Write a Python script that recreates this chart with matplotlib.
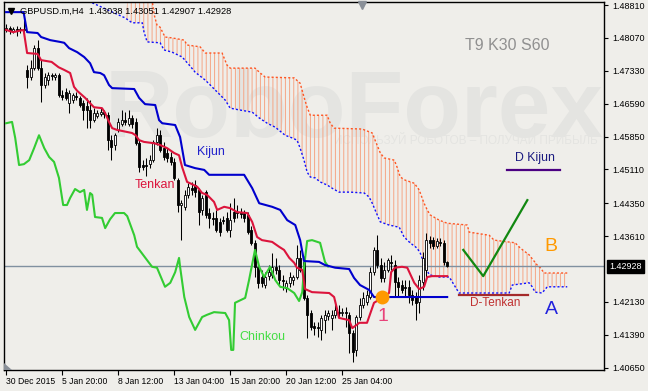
import matplotlib
matplotlib.use("Agg")
import matplotlib.pyplot as plt
import matplotlib.transforms as mtransforms
from matplotlib.patches import Polygon
import numpy as np

plt.rcParams["font.family"] = ["Liberation Sans", "DejaVu Sans"]
plt.rcParams["hatch.linewidth"] = 0.7

# H4 candles, bar index 0 = 30 Dec 2015
opens = [1.4825, 1.4829, 1.4822, 1.4827, 1.4825, 1.4827, 1.4735, 1.4719, 1.4739, 1.4784,
         1.4739, 1.4701, 1.4712, 1.4723, 1.4719, 1.4723, 1.4678, 1.4685, 1.4660, 1.4667,
         1.4676, 1.4672, 1.4660, 1.4654, 1.4645, 1.4622, 1.4631, 1.4636, 1.4640, 1.4633,
         1.4577, 1.4566, 1.4600, 1.4613, 1.4622, 1.4613, 1.4627, 1.4618, 1.4570, 1.4521,
         1.4521, 1.4523, 1.4532, 1.4573, 1.4588, 1.4559, 1.4548, 1.4539, 1.4528, 1.4487,
         1.4431, 1.4427, 1.4454, 1.4469, 1.4476, 1.4465, 1.4420, 1.4460, 1.4413, 1.4402,
         1.4402, 1.4393, 1.4397, 1.4402, 1.4375, 1.4415, 1.4415, 1.4415, 1.4413, 1.4409,
         1.4375, 1.4346, 1.4292, 1.4269, 1.4251, 1.4271, 1.4274, 1.4292, 1.4285, 1.4262,
         1.4244, 1.4256, 1.4262, 1.4269, 1.4312, 1.4303, 1.4222, 1.4188, 1.4159, 1.4157,
         1.4150, 1.4172, 1.4181, 1.4177, 1.4184, 1.4190, 1.4188, 1.4190, 1.4184, 1.4143,
         1.4105, 1.4179, 1.4206, 1.4213, 1.4224, 1.4280, 1.4330, 1.4296, 1.4267, 1.4285,
         1.4303, 1.4296, 1.4258, 1.4251, 1.4247, 1.4247, 1.4228, 1.4224, 1.4213, 1.4258,
         1.4285, 1.4352, 1.4352, 1.4339, 1.4348, 1.4346, 1.43038]
highs = [1.4838, 1.4834, 1.4831, 1.4834, 1.4831, 1.4847, 1.4746, 1.4757, 1.4791, 1.4802,
         1.4757, 1.4728, 1.4730, 1.4728, 1.4728, 1.4728, 1.4690, 1.4694, 1.4690, 1.4683,
         1.4685, 1.4676, 1.4667, 1.4672, 1.4667, 1.4649, 1.4645, 1.4649, 1.4645, 1.4640,
         1.4588, 1.4593, 1.4627, 1.4645, 1.4640, 1.4645, 1.4633, 1.4627, 1.4577, 1.4532,
         1.4537, 1.4543, 1.4577, 1.4604, 1.4600, 1.4573, 1.4559, 1.4550, 1.4537, 1.4492,
         1.4442, 1.4465, 1.4480, 1.4483, 1.4487, 1.4469, 1.4454, 1.4465, 1.4424, 1.4415,
         1.4420, 1.4402, 1.4406, 1.4415, 1.4435, 1.4447, 1.4431, 1.4424, 1.4420, 1.4415,
         1.4384, 1.4352, 1.4303, 1.4285, 1.4280, 1.4296, 1.4323, 1.4312, 1.4296, 1.4274,
         1.4262, 1.4280, 1.4274, 1.4341, 1.4330, 1.4316, 1.4228, 1.4195, 1.4168, 1.4168,
         1.4184, 1.4195, 1.4195, 1.4195, 1.4217, 1.4206, 1.4199, 1.4202, 1.4190, 1.4150,
         1.4184, 1.4222, 1.4235, 1.4240, 1.4292, 1.4337, 1.4363, 1.4312, 1.4303, 1.4312,
         1.4319, 1.4307, 1.4269, 1.4262, 1.4262, 1.4262, 1.4240, 1.4235, 1.4274, 1.4325,
         1.4368, 1.4361, 1.4359, 1.4357, 1.4357, 1.4352, 1.43051]
lows = [1.4820, 1.4816, 1.4818, 1.4811, 1.4818, 1.4818, 1.4694, 1.4712, 1.4735, 1.4735,
        1.4663, 1.4694, 1.4701, 1.4712, 1.4712, 1.4674, 1.4667, 1.4667, 1.4638, 1.4660,
        1.4667, 1.4651, 1.4622, 1.4604, 1.4604, 1.4618, 1.4627, 1.4631, 1.4627, 1.4555,
        1.4532, 1.4555, 1.4595, 1.4609, 1.4611, 1.4609, 1.4604, 1.4566, 1.4505, 1.4510,
        1.4496, 1.4514, 1.4528, 1.4566, 1.4550, 1.4532, 1.4528, 1.4521, 1.4487, 1.4415,
        1.4352, 1.4420, 1.4447, 1.4454, 1.4449, 1.4386, 1.4409, 1.4402, 1.4379, 1.4386,
        1.4370, 1.4361, 1.4388, 1.4370, 1.4359, 1.4393, 1.4402, 1.4402, 1.4393, 1.4366,
        1.4341, 1.4269, 1.4244, 1.4247, 1.4244, 1.4262, 1.4267, 1.4276, 1.4251, 1.4240,
        1.4235, 1.4247, 1.4251, 1.4265, 1.4280, 1.4217, 1.4132, 1.4150, 1.4139, 1.4134,
        1.4128, 1.4143, 1.4172, 1.4150, 1.4177, 1.4177, 1.4181, 1.4157, 1.4098, 1.4077,
        1.4092, 1.4172, 1.4199, 1.4206, 1.4220, 1.4274, 1.4290, 1.4258, 1.4258, 1.4280,
        1.4285, 1.4224, 1.4224, 1.4233, 1.4224, 1.4211, 1.4206, 1.4172, 1.4188, 1.4240,
        1.4262, 1.4334, 1.4332, 1.4334, 1.4339, 1.4296, 1.42907]
closes = [1.4829, 1.4822, 1.4827, 1.4825, 1.4827, 1.4825, 1.4719, 1.4739, 1.4784, 1.4739,
          1.4701, 1.4719, 1.4723, 1.4721, 1.4723, 1.4678, 1.4674, 1.4672, 1.4683, 1.4678,
          1.4674, 1.4656, 1.4645, 1.4645, 1.4622, 1.4638, 1.4638, 1.4640, 1.4636, 1.4577,
          1.4561, 1.4588, 1.4618, 1.4622, 1.4618, 1.4627, 1.4613, 1.4570, 1.4516, 1.4516,
          1.4519, 1.4532, 1.4573, 1.4588, 1.4555, 1.4539, 1.4537, 1.4528, 1.4492, 1.4431,
          1.4435, 1.4454, 1.4472, 1.4465, 1.4460, 1.4415, 1.4447, 1.4409, 1.4402, 1.4399,
          1.4375, 1.4370, 1.4395, 1.4375, 1.4397, 1.4402, 1.4413, 1.4411, 1.4402, 1.4370,
          1.4346, 1.4292, 1.4256, 1.4256, 1.4269, 1.4280, 1.4292, 1.4285, 1.4262, 1.4260,
          1.4256, 1.4269, 1.4269, 1.4312, 1.4285, 1.4222, 1.4184, 1.4157, 1.4154, 1.4154,
          1.4177, 1.4184, 1.4188, 1.4184, 1.4195, 1.4188, 1.4190, 1.4188, 1.4143, 1.4100,
          1.4179, 1.4206, 1.4222, 1.4228, 1.4280, 1.4330, 1.4296, 1.4267, 1.4285, 1.4307,
          1.4301, 1.4258, 1.4247, 1.4240, 1.4244, 1.4228, 1.4217, 1.4211, 1.4262, 1.4312,
          1.4352, 1.4346, 1.4339, 1.4350, 1.4346, 1.4303, 1.42928]

# Ichimoku lines (bar index, price)
tenkan_i = [0, 2, 5, 6, 9, 10, 13, 15, 16.6, 18.3, 19.4, 20.3, 22.6, 24, 25.1, 27.4, 28.3,
            29.4, 30.3, 31.7, 36, 37, 38, 39.4, 42.3, 44, 46, 48, 49.4, 50.3, 51.7, 53.1,
            54.6, 56, 57.4, 59.4, 60.3, 62.3, 64, 66, 68.9, 70.3, 71.7, 73.1, 76, 78, 79.4,
            80.9, 82.3, 83.1, 84.6, 85.4, 87.4, 92.3, 93.7, 94.6, 95.1, 98, 98.9, 100.9,
            103.1, 105.1, 107.4, 109.4, 110, 111.1, 113.1, 114.6, 116.6, 118, 119.4, 120.3,
            121.7, 126]
tenkan_p = [1.4825, 1.4820, 1.4825, 1.4773, 1.4771, 1.4757, 1.4753, 1.4741, 1.4735, 1.4728,
            1.4697, 1.4688, 1.4672, 1.4660, 1.4651, 1.4649, 1.4638, 1.4618, 1.4604, 1.4600,
            1.4593, 1.4588, 1.4577, 1.4573, 1.4570, 1.4566, 1.4559, 1.4548, 1.4543, 1.4516,
            1.4483, 1.4478, 1.4472, 1.4458, 1.4454, 1.4438, 1.4420, 1.4427, 1.4424, 1.4415,
            1.4413, 1.4393, 1.4359, 1.4352, 1.4348, 1.4337, 1.4330, 1.4312, 1.4301, 1.4290,
            1.4285, 1.4242, 1.4235, 1.4233, 1.4224, 1.4195, 1.4177, 1.4172, 1.4154, 1.4166,
            1.4166, 1.4211, 1.4222, 1.4233, 1.4280, 1.4290, 1.4292, 1.4290, 1.4256, 1.4242,
            1.4247, 1.4269, 1.4271, 1.4271]

kijun_i = [0, 5, 6, 9, 10, 12.6, 15.4, 16.6, 18, 20.3, 22.3, 24, 25.1, 26.9, 28, 29.4, 30.3,
           36.6, 38, 39.7, 42.6, 43.7, 44.6, 48.3, 49.7, 51.1, 54, 56.6, 58, 68, 70.3, 72.3,
           76, 78.3, 80.3, 82.6, 84, 85.1, 89.4, 91.1, 94, 98, 99.4, 101.1, 103.7, 105.1, 126]
kijun_p = [1.4865, 1.4865, 1.4820, 1.4818, 1.4809, 1.4802, 1.4798, 1.4796, 1.4784, 1.4775,
           1.4764, 1.4750, 1.4730, 1.4728, 1.4723, 1.4701, 1.4694, 1.4692, 1.4672, 1.4658,
           1.4656, 1.4622, 1.4615, 1.4611, 1.4584, 1.4521, 1.4514, 1.4510, 1.4499, 1.4499,
           1.4469, 1.4435, 1.4427, 1.4420, 1.4397, 1.4386, 1.4352, 1.4305, 1.4303, 1.4296,
           1.4290, 1.4287, 1.4267, 1.4251, 1.4240, 1.4224, 1.4224]

chinkou_i = [0, 1.7, 2.6, 3.7, 5.1, 6.6, 8, 9.4, 10.9, 12.3, 13.7, 15.1, 16.3, 17.4, 18.3,
             19.7, 21.1, 22.3, 23.1, 24, 24.6, 25.4, 27.4, 28.3, 29.7, 31.1, 33.7, 34.6, 36.6,
             37.4, 41.7, 43.1, 45.4, 46.9, 48.3, 49.4, 49.7, 50.9, 52.3, 54, 56, 57.4, 59.4,
             62.6, 63.7, 64.3, 64.9, 65.4, 68.3, 69.4, 70.3, 71.1, 72.3, 73.7, 75.4, 76.9,
             78.3, 80.3, 82.3, 83.7, 84.6, 85.1, 86, 87.4, 89.7, 91.1, 92]
chinkou_p = [1.4615, 1.4618, 1.4582, 1.4521, 1.4523, 1.4532, 1.4559, 1.4588, 1.4559, 1.4539,
             1.4528, 1.4492, 1.4431, 1.4431, 1.4447, 1.4467, 1.4460, 1.4465, 1.4420, 1.4458,
             1.4454, 1.4404, 1.4402, 1.4379, 1.4399, 1.4413, 1.4413, 1.4406, 1.4363, 1.4337,
             1.4292, 1.4290, 1.4247, 1.4256, 1.4280, 1.4312, 1.4292, 1.4224, 1.4179, 1.4150,
             1.4179, 1.4184, 1.4190, 1.4188, 1.4172, 1.4105, 1.4105, 1.4211, 1.4222, 1.4262,
             1.4298, 1.4330, 1.4292, 1.4269, 1.4292, 1.4262, 1.4247, 1.4244, 1.4233, 1.4215,
             1.4235, 1.4290, 1.4350, 1.4352, 1.4346, 1.4303, 1.42928]

span_a_i = [24.6, 34, 36, 38.9, 39.4, 40.3, 44, 45.1, 47.4, 50.3, 52.3, 54, 56.9, 59.7, 62.6,
            64, 66.6, 70.3, 72.3, 74.6, 76.9, 79.7, 81.7, 83.1, 84, 85.1, 86, 86.9, 88.3, 89.7,
            91.7, 93.1, 95.1, 98.3, 102.3, 103.7, 104.6, 106, 106.9, 109.4, 112.3, 113.7,
            115.4, 117.4, 118.3, 119.7, 120.9, 123.7, 126.6, 128.3, 129.4, 143.7, 144.6,
            149.4, 150.3, 151.1, 153.1, 154.6, 160.3]
span_a_p = [1.4886, 1.4852, 1.4841, 1.4841, 1.4820, 1.4798, 1.4796, 1.4780, 1.4775, 1.4764,
            1.4746, 1.4730, 1.4712, 1.4690, 1.4667, 1.4649, 1.4645, 1.4640, 1.4627, 1.4615,
            1.4606, 1.4588, 1.4582, 1.4577, 1.4559, 1.4532, 1.4505, 1.4494, 1.4492, 1.4483,
            1.4476, 1.4469, 1.4460, 1.4460, 1.4458, 1.4449, 1.4435, 1.4409, 1.4393, 1.4386,
            1.4381, 1.4359, 1.4346, 1.4334, 1.4323, 1.4292, 1.4274, 1.4269, 1.4269, 1.4247,
            1.4233, 1.4233, 1.4251, 1.4256, 1.4247, 1.4235, 1.4233, 1.4247, 1.4247]

span_b_i = [35, 41.4, 42.3, 43.1, 44, 45.4, 47.4, 50.9, 51.7, 55.4, 56.9, 61.7, 63.1, 64,
            71.1, 72.6, 74, 82.3, 84, 85.1, 86, 86.9, 91.7, 92.6, 93.7, 101.7, 104.6, 105.4,
            106.9, 108, 110.9, 111.7, 112.6, 114, 116.6, 118, 119.4, 120.3, 121.1, 123.7, 126,
            131.7, 132.3, 138, 139.4, 145.4, 146.9, 149.4, 151.7, 152.6, 153.7, 160.3]
span_b_p = [1.4910, 1.4910, 1.4859, 1.4836, 1.4831, 1.4809, 1.4807, 1.4802, 1.4791, 1.4787,
            1.4773, 1.4773, 1.4746, 1.4739, 1.4739, 1.4728, 1.4719, 1.4717, 1.4705, 1.4674,
            1.4651, 1.4633, 1.4633, 1.4615, 1.4604, 1.4602, 1.4593, 1.4577, 1.4548, 1.4537,
            1.4532, 1.4516, 1.4494, 1.4487, 1.4480, 1.4465, 1.4435, 1.4420, 1.4409, 1.4397,
            1.4390, 1.4386, 1.4370, 1.4363, 1.4352, 1.4346, 1.4334, 1.4319, 1.4296, 1.4290,
            1.4278, 1.4278]

# analyst drawings
check_i = [130.6, 136.3, 148.9]
check_p = [1.4330, 1.4271, 1.4442]
d_kijun_i = [143.1, 158.2]
d_kijun_p = [1.4509, 1.4509]
d_tenkan_i = [129.3, 149.1]
d_tenkan_p = [1.4228, 1.4228]
point1_i, point1_p = 107.4, 1.4223

last_price = 1.42928
# 1.42870 is hidden behind the last-price box, as in the terminal
price_ticks = [1.48810, 1.48070, 1.47330, 1.46590, 1.45850, 1.45110,
               1.44350, 1.43610, 1.42130, 1.41390, 1.40650]
time_ticks = [0, 16, 32, 48, 64, 80, 96]
time_labels = ["30 Dec 2015", "5 Jan 20:00", "8 Jan 12:00", "13 Jan 04:00",
               "15 Jan 20:00", "20 Jan 12:00", "25 Jan 04:00"]

bg = "#efeeea"
fig = plt.figure(figsize=(6.48, 3.91), dpi=100, facecolor=bg)
ax = fig.add_axes([4 / 648, 21 / 391, 600 / 648, 368 / 391], facecolor=bg)
ax.set_xlim(-0.6, 170.8)
ax.set_ylim(1.40598, 1.48878)

# watermark
ax.text(0.168, 0.633, "RoboForex", transform=ax.transAxes, fontsize=68, fontweight="bold",
        color="#e4e4e1", va="baseline", ha="left", zorder=0)
ax.text(0.99, 0.622, "ИСПОЛЬЗУЙ РОБОТОВ – ПОЛУЧАЙ ПРИБЫЛЬ", transform=ax.transAxes,
        fontsize=8.5, color="#e4e4e1", va="center", ha="right", zorder=0)

# cloud
n0 = 1
cloud = list(zip(span_a_i[n0:], span_a_p[n0:])) + list(zip(span_b_i[::-1], span_b_p[::-1]))
ax.add_patch(Polygon(cloud, closed=True, facecolor="none", edgecolor="#f5a585",
                     hatch="||||", lw=0, zorder=1))
ax.plot(span_a_i, span_a_p, color="#1010ff", lw=1, ls=(0, (1.5, 1.5)), zorder=2)
ax.plot(span_b_i, span_b_p, color="#ff5522", lw=1, ls=(0, (1.5, 1.5)), zorder=2)

# current price line
ax.axhline(last_price, color="#8090a0", lw=1, zorder=2)

# candles
idx = np.arange(len(closes))
o = np.array(opens)
h = np.array(highs)
lo = np.array(lows)
c = np.array(closes)
up = c >= o
ax.vlines(idx, lo, h, color="black", lw=0.75, zorder=3)
ax.bar(idx[up], (c - o)[up], bottom=o[up], width=0.62, color="white",
       edgecolor="black", lw=0.6, zorder=4)
ax.bar(idx[~up], (o - c)[~up], bottom=c[~up], width=0.62, color="black",
       edgecolor="black", lw=0.6, zorder=4)

# ichimoku lines
ax.plot(chinkou_i, chinkou_p, color="#33cc33", lw=1.5, zorder=5)
ax.plot(kijun_i, kijun_p, color="#0000cd", lw=1.5, zorder=5)
ax.plot(tenkan_i, tenkan_p, color="#dc143c", lw=1.5, zorder=5)

# drawings
ax.plot(check_i, check_p, color="#118811", lw=1.6, zorder=6)
ax.plot(d_kijun_i, d_kijun_p, color="#4b0082", lw=1.6, zorder=6)
ax.plot(d_tenkan_i, d_tenkan_p, color="#a52a2a", lw=1.6, zorder=6)
ax.plot([point1_i], [point1_p], "o", color="#ff9900", ms=10, mew=0, zorder=6)

ax.text(58.6, 1.4551, "Kijun", color="#2222cc", fontsize=9, ha="center", va="center", zorder=6)
ax.text(42.6, 1.4476, "Tenkan", color="#dc143c", fontsize=9, ha="center", va="center", zorder=6)
ax.text(73.3, 1.4135, "Chinkou", color="#44dd44", fontsize=9, ha="center", va="center", zorder=6)
ax.text(143.1, 1.4789, "T9 K30 S60", color="#909090", fontsize=11.5, ha="center", va="center", zorder=6)
ax.text(151.1, 1.4536, "D Kijun", color="#1a1a80", fontsize=8.8, ha="center", va="center", zorder=6)
ax.text(139.7, 1.4211, "D-Tenkan", color="#c03030", fontsize=8.5, ha="center", va="center", zorder=6)
ax.text(155.7, 1.4337, "B", color="#ff9900", fontsize=14, ha="center", va="center", zorder=6)
ax.text(155.7, 1.4195, "A", color="#2222dd", fontsize=14, ha="center", va="center", zorder=6)
ax.text(107.6, 1.4180, "1", color="#e8437a", fontsize=14, ha="center", va="center", zorder=6)

# header
ax.plot([0.012], [0.976], "v", color="black", ms=4, transform=ax.transAxes, clip_on=False, zorder=7)
ax.text(0.027, 0.976, "GBPUSD.m,H4  1.43038 1.43051 1.42907 1.42928", transform=ax.transAxes,
        fontsize=6.7, color="black", ha="left", va="center", zorder=7)
ax.plot([0.597], [0.991], "v", color="#8a9098", ms=6, transform=ax.transAxes, clip_on=False, zorder=7)
ax.add_patch(Polygon([(0, 0), (8 / 600, 0), (0, 7 / 368)], closed=True, transform=ax.transAxes,
                     facecolor="#8a9098", edgecolor="none", zorder=7))

# axes
for s in ax.spines.values():
    s.set_color("black")
    s.set_linewidth(1)
ax.yaxis.tick_right()
ax.set_yticks(price_ticks)
ax.set_yticklabels([f"{p:.5f}" for p in price_ticks])
ax.set_xticks(time_ticks)
ax.set_xticklabels(time_labels, ha="left")
ax.tick_params(axis="y", direction="out", length=3, pad=3, labelsize=6.5, colors="black")
ax.tick_params(axis="x", direction="out", length=3.5, pad=1.5, labelsize=6.2, colors="black")

blend = mtransforms.blended_transform_factory(ax.transAxes, ax.transData)
ax.text(1.0 + 5 / 600, last_price, "1.42928", transform=blend, fontsize=6.5, color="white",
        ha="left", va="center", clip_on=False,
        bbox=dict(boxstyle="square,pad=0.25", facecolor="black", edgecolor="black"))

fig.savefig("out.png", dpi=100, facecolor=bg)
